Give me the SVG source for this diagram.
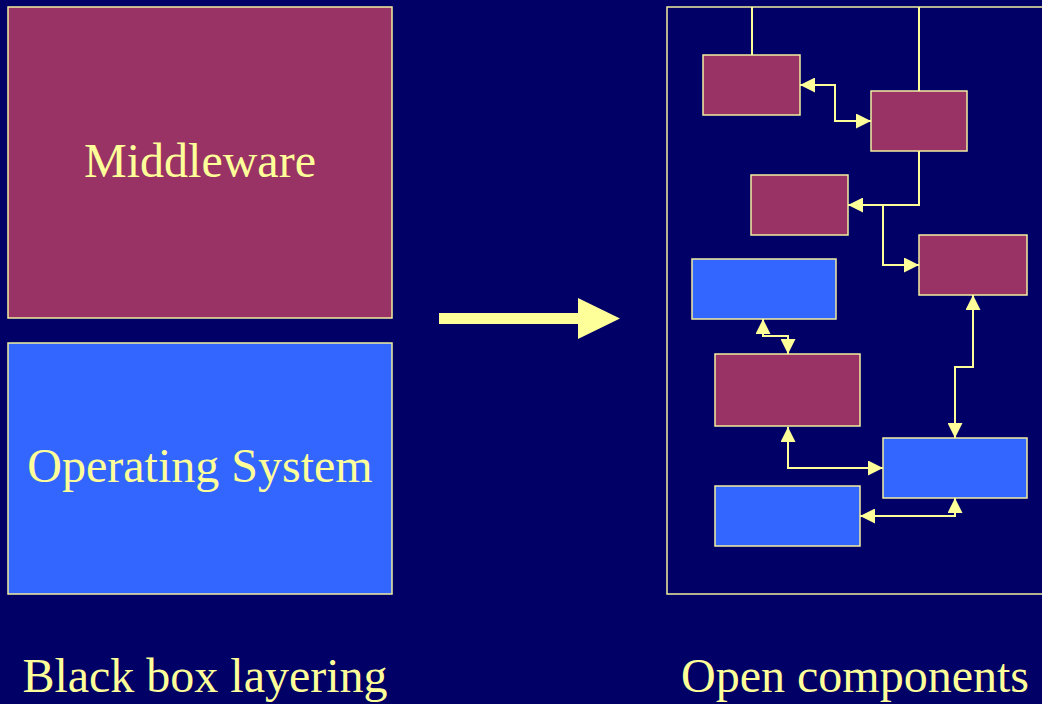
<svg xmlns="http://www.w3.org/2000/svg" width="1042" height="704" viewBox="0 0 1042 704">
  <style>
    .bg { fill: #000066; }
    .mag { fill: #993366; stroke: #F2EE9E; stroke-width: 1.5; }
    .blu { fill: #3366FF; stroke: #F2EE9E; stroke-width: 1.5; }
    .frame { fill: none; stroke: #F2EE9E; stroke-width: 1.5; }
    .lbl { font-family: "Liberation Serif", "Times New Roman", serif; font-size: 48px; fill: #FFFF99; text-anchor: middle; }
    .wire { fill: none; stroke: #FFFF99; stroke-width: 2; }
    .arrowed { marker-start: url(#head); marker-end: url(#head); }
  </style>
  <defs>
    <marker id="head" markerUnits="userSpaceOnUse" markerWidth="15" markerHeight="15" refX="15" refY="7.5" orient="auto-start-reverse">
      <path d="M0,0 L15,7.5 L0,15 Z" fill="#FFFF99"/>
    </marker>
  </defs>

  <rect class="bg" x="0" y="0" width="1042" height="704"/>

  <!-- layered stack -->
  <g id="middleware">
    <rect class="mag" x="8" y="7" width="384" height="311"/>
    <text class="lbl" x="200" y="177">Middleware</text>
  </g>
  <g id="operating-system">
    <rect class="blu" x="8" y="343" width="384" height="251"/>
    <text class="lbl" x="200" y="482">Operating System</text>
  </g>

  <!-- transition arrow -->
  <g id="transition">
    <polygon points="439,313 578,313 578,298 620,318.5 578,339 578,324 439,324" fill="#FFFF99"/>
  </g>

  <!-- component frame -->
  <g id="frame">
    <rect class="frame" x="667" y="7" width="390" height="587"/>
  </g>

  <g id="comp-a"><rect class="mag" x="703" y="55" width="97" height="60"/></g>
  <g id="comp-b"><rect class="mag" x="871" y="91" width="96" height="60"/></g>
  <g id="comp-c"><rect class="mag" x="751" y="175" width="97" height="60"/></g>
  <g id="comp-d"><rect class="mag" x="919" y="235" width="108" height="60"/></g>
  <g id="comp-e"><rect class="blu" x="692" y="259" width="144" height="60"/></g>
  <g id="comp-f"><rect class="mag" x="715" y="354" width="145" height="72"/></g>
  <g id="comp-g"><rect class="blu" x="883" y="438" width="144" height="60"/></g>
  <g id="comp-h"><rect class="blu" x="715" y="486" width="145" height="60"/></g>

  <!-- connectors -->
  <g id="connectors">
    <polyline class="wire" points="752,7 752,55"/>
    <polyline class="wire" points="919,7 919,91"/>
    <polyline class="wire arrowed" points="800,85 835,85 835,121 871,121"/>
    <polyline class="wire" points="919,151 919,205 883,205"/>
    <polyline class="wire" style="marker-end:url(#head)" points="883,205 848,205"/>
    <polyline class="wire" style="marker-end:url(#head)" points="883,205 883,265 919,265"/>
    <polyline class="wire arrowed" points="973,295 973,367 955,367 955,438"/>
    <polyline class="wire arrowed" points="763,319 763,336 788,336 788,354"/>
    <polyline class="wire arrowed" points="788,427 788,468 883,468"/>
    <polyline class="wire arrowed" points="955,498 955,516 860,516"/>
  </g>

  <!-- captions -->
  <g id="captions">
    <text class="lbl" x="205" y="692">Black box layering</text>
    <text class="lbl" x="855" y="692">Open components</text>
  </g>
</svg>
